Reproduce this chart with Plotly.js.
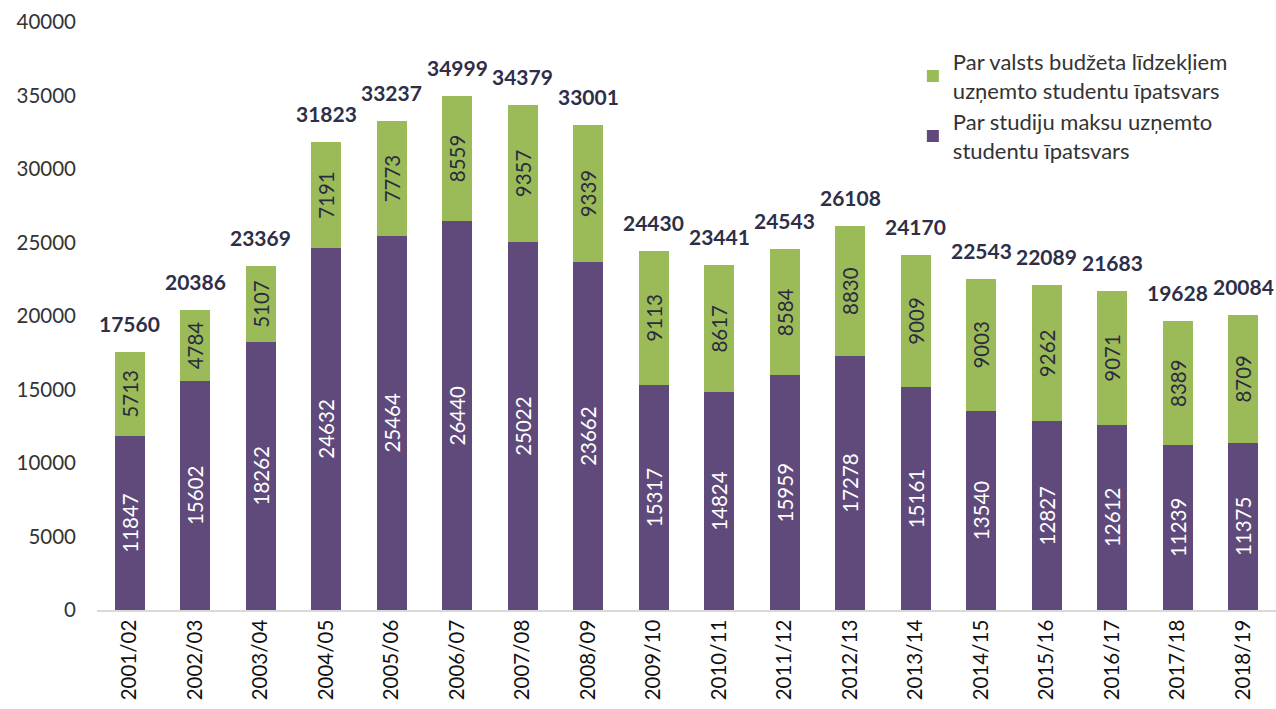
<!DOCTYPE html>
<html>
<head>
<meta charset="utf-8">
<script src="https://cdn.plot.ly/plotly-3.0.1.min.js"></script>
<style>html,body{margin:0;padding:0;background:#fff;}#chart{width:1276px;height:709px;}</style>
</head>
<body>
<div id="chart"></div>
<script>
const years = ["2001/02","2002/03","2003/04","2004/05","2005/06","2006/07","2007/08","2008/09","2009/10","2010/11","2011/12","2012/13","2013/14","2014/15","2015/16","2016/17","2017/18","2018/19"];
const paid = [11847,15602,18262,24632,25464,26440,25022,23662,15317,14824,15959,17278,15161,13540,12827,12612,11239,11375];
const budget = [5713,4784,5107,7191,7773,8559,9357,9339,9113,8617,8584,8830,9009,9003,9262,9071,8389,8709];
const seriesNames = ["Par studiju maksu uzņemto<br>studentu īpatsvars","Par valsts budžeta līdzekļiem<br>uzņemto studentu īpatsvars"];
const totals = paid.map((v,i)=>v+budget[i]);

const FONT = "Lato, 'Open Sans', sans-serif";
const purple = "#604A7B", green = "#9BBB59";

const traces = [
  {type:'bar', x:years, y:paid, name:seriesNames[0], marker:{color:purple},
   text:paid.map(String), textposition:'inside', textangle:-90, insidetextanchor:'middle',
   constraintext:'none', insidetextfont:{family:FONT,size:20.5,color:'#ffffff'}, hoverinfo:'y'},
  {type:'bar', x:years, y:budget, name:seriesNames[1], marker:{color:green},
   text:budget.map(String), textposition:'inside', textangle:-90, insidetextanchor:'middle',
   constraintext:'none', insidetextfont:{family:FONT,size:20.5,color:'#2b2b3f'}, hoverinfo:'y'}
];

const annotations = years.map((y,i)=>({
  x:y, y:totals[i], xref:'x', yref:'y', text:'<b>'+totals[i]+'</b>', showarrow:false,
  yanchor:'bottom', yshift:14, font:{family:FONT,size:21,color:'#2e2e48'}
}));

const layout = {
  width:1276, height:709,
  margin:{l:97, r:0, t:22, b:99},
  barmode:'stack', bargap:0.54,
  paper_bgcolor:'#fff', plot_bgcolor:'#fff',
  font:{family:FONT, size:20.5, color:'#333'},
  showlegend:true,
  legend:{x:0.692, y:0.968, xanchor:'left', yanchor:'top', traceorder:'reversed',
    font:{family:FONT,size:22,color:'#333'}, bgcolor:'rgba(0,0,0,0)', itemwidth:30, tracegroupgap:18},
  xaxis:{type:'category', tickangle:-90, showline:true, linecolor:'#d9d9d9', linewidth:1.5,
    ticks:'', tickfont:{family:FONT,size:20.5,color:'#111'}, showgrid:false, automargin:false},
  yaxis:{range:[0,40000], dtick:5000, tickformat:'d', showgrid:false, zeroline:false, showline:false,
    ticks:'', tickfont:{family:FONT,size:20.5,color:'#333'}, ticklabelstandoff:20, automargin:false},
  annotations:annotations
};

Plotly.newPlot('chart', traces, layout, {displayModeBar:false, staticPlot:true});
</script>
</body>
</html>
